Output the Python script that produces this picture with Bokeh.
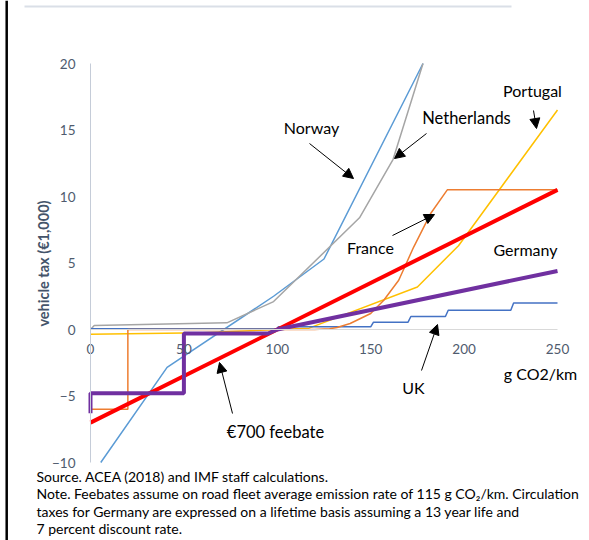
import math
from bokeh.plotting import figure
from bokeh.models import Label, Arrow, NormalHead, FixedTicker, Range1d, Span, BoxAnnotation
from bokeh.embed import file_html
from bokeh.resources import INLINE

# ---------------- data ----------------
norway_x = [5.5, 41, 98, 125, 178]
norway_y = [-10.0, -2.85, 2.5, 5.3, 20.0]

netherlands_x = [0, 2, 73, 98, 144, 162, 178]
netherlands_y = [0.0, 0.3, 0.5, 2.1, 8.4, 12.8, 20.0]

france_x = [0, 20, 20, 120, 128, 132, 139, 150, 157, 165, 173, 182, 191, 250]
france_y = [-6.0, -6.0, 0.0, 0.0, 0.05, 0.15, 0.45, 1.2, 2.2, 3.7, 6.2, 8.7, 10.5, 10.5]

portugal_x = [0, 60, 100, 117, 175, 197, 250]
portugal_y = [-0.35, -0.25, 0.0, 0.1, 3.2, 6.3, 16.5]

uk_x = [0, 100, 100.5, 150, 151.5, 170, 171.5, 190, 191.5, 225, 226.5, 250]
uk_y = [0.05, 0.05, 0.2, 0.2, 0.55, 0.55, 0.98, 0.98, 1.45, 1.45, 2.0, 2.0]

germany_x = [0, 0, 50, 50, 95, 100, 250]
germany_y = [-6.3, -4.8, -4.8, -0.3, -0.3, 0.0, 4.4]

feebate_x = [0, 250]
feebate_y = [-7.0, 10.5]

x_ticks = [0, 50, 100, 150, 200, 250]
y_ticks = [-10, -5, 0, 5, 10, 15, 20]

notes = [
    "Source. ACEA (2018) and IMF staff calculations.",
    "Note. Feebates assume on road fleet average emission rate of 115 g CO\u2082/km. Circulation",
    "taxes for Germany are expressed on a lifetime basis assuming a 13 year life and",
    "7 percent discount rate.",
]

FONT = "Lato"

# ---------------- geometry: picture pixels of the axis ends ----------------
OX, OY = 0, 0
W, H = 583, 540
FX0, FX1 = 90, 557     # pixel of x=0 and x=250
FY0, FY1 = 462, 63     # pixel of y=-10 and y=20
SX = (FX1 - FX0) / 250.0
SY = (FY0 - FY1) / 30.0

x_start = 0 - (FX0 - OX) / SX
x_end = 250 + (OX + W - FX1) / SX
y_end = 20 + (FY1 - OY) / SY
y_start = -10 - (OY + H - FY0) / SY

def dx(px):
    return (px - FX0) / SX

def dy(py):
    return -10 + (FY0 - py) / SY

# ---------------- figure ----------------
p = figure(width=W, height=H, output_backend="svg", toolbar_location=None,
           x_range=Range1d(x_start, x_end), y_range=Range1d(y_start, y_end),
           min_border=0, outline_line_color=None,
           background_fill_color="white", border_fill_color="white")
p.grid.visible = False

p.xaxis.fixed_location = 0
p.yaxis.fixed_location = 0
p.xaxis.bounds = (0, 250)
p.yaxis.bounds = (-10, 20)
p.xaxis.ticker = FixedTicker(ticks=x_ticks)
p.yaxis.ticker = FixedTicker(ticks=y_ticks)
for ax in (p.xaxis, p.yaxis):
    ax.major_tick_in = 0
    ax.major_tick_out = 0
    ax.minor_tick_in = 0
    ax.minor_tick_out = 0
    ax.major_label_text_font = FONT
    ax.major_label_text_font_size = "13.5px"
    ax.major_label_text_color = "#4F5B6E"
p.xaxis.axis_line_color = "#D9D9D9"
p.xaxis.major_label_standoff = 14
p.yaxis.axis_line_color = "#C5CCD8"
p.yaxis.major_label_standoff = 15

# page decorations (frame of the original document)
p.add_layout(Span(location=dx(6.2), dimension="height", line_color="black", line_width=2.5))
p.add_layout(BoxAnnotation(left=dx(24), right=dx(511), top=dy(5), bottom=dy(7),
                           fill_color="#DADFE7", fill_alpha=1, line_color=None))

# series
p.line(norway_x, norway_y, line_color="#5B9BD5", line_width=1.5)
p.line(netherlands_x, netherlands_y, line_color="#A5A5A5", line_width=1.5)
p.line(portugal_x, portugal_y, line_color="#FFC000", line_width=1.5)
p.line(uk_x, uk_y, line_color="#4472C4", line_width=1.5)
p.line(france_x, france_y, line_color="#ED7D31", line_width=1.5)
p.line(feebate_x, feebate_y, line_color="#FF0000", line_width=4)
p.line(germany_x, germany_y, line_color="#7030A0", line_width=4)

# ---------------- annotations ----------------
def label(px, py, text, size="16px", align="center", baseline="middle",
          color="black", style="normal", angle=0):
    p.add_layout(Label(x=dx(px), y=dy(py), text=text, text_font=FONT,
                       text_font_size=size, text_color=color, text_font_style=style,
                       text_align=align, text_baseline=baseline, angle=angle))

def arrow(x0, y0, x1, y1):
    p.add_layout(Arrow(end=NormalHead(size=10, fill_color="black", line_color="black", line_width=1),
                       x_start=dx(x0), y_start=dy(y0), x_end=dx(x1), y_end=dy(y1),
                       line_color="black", line_width=1))

label(43, 263, "vehicle tax (\u20ac1,000)", size="14.5px", color="#44546A",
      style="bold", angle=math.pi / 2)

label(311, 127, "Norway")
arrow(309, 143, 353, 178)
label(466, 117, "Netherlands", size="16.5px")
arrow(426, 133, 394, 158)
label(532, 90, "Portugal")
arrow(533, 110, 536, 128)
label(370, 247, "France")
arrow(392, 235, 434, 214)
label(525, 249, "Germany")
label(413, 387, "UK")
arrow(421, 370, 437, 324)
label(275, 431, "\u20ac700 feebate", size="16.5px")
arrow(232, 413, 219, 362)
label(540, 373, "g CO2/km")

for i, t in enumerate(notes):
    label(36, 476 + i * 17.4, t, size="14px", align="left", baseline="alphabetic")

open("out.html", "w").write(file_html(p, INLINE))
